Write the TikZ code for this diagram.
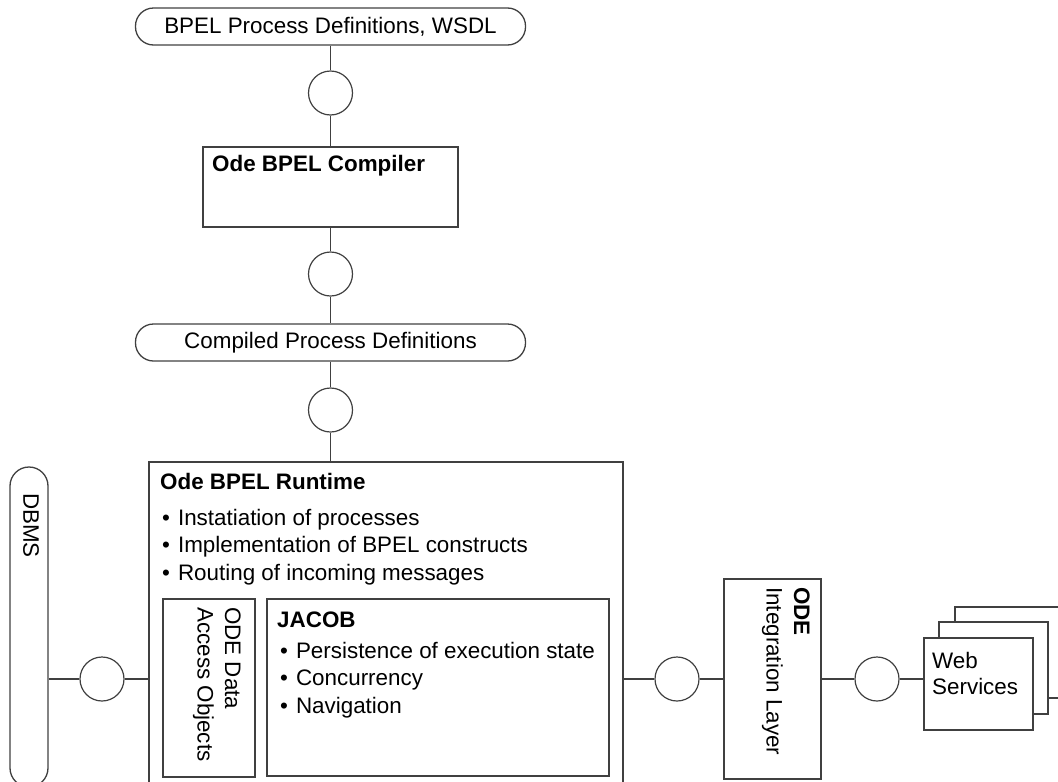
\documentclass[tikz,border=0pt]{standalone}
\usepackage{fontspec}
\setmainfont{Liberation Sans}
\definecolor{linec}{RGB}{64,64,64}
\newcommand{\itm}{\textbullet\hspace{8pt}}

\begin{document}
\begin{tikzpicture}[x=1pt,y=-1pt,font=\fontsize{22.4}{27.5}\selectfont]
\tikzstyle{artifact}=[rectangle,rounded corners=18pt,draw=linec,line width=1.3pt,minimum width=390pt,minimum height=37pt,inner sep=0pt]
\tikzstyle{iface}=[circle,draw=linec,line width=1.2pt,minimum size=44pt,inner sep=0pt]
\tikzstyle{comp}=[rectangle,draw=linec,line width=1.3pt,inner sep=0pt]
\tikzstyle{txt}=[inner sep=0pt,anchor=north west,align=left]
\tikzstyle{vtxt}=[inner sep=0pt,anchor=north west,align=left,rotate=-90]
\tikzstyle{conn}=[draw=linec,line width=1.3pt]
\useasboundingbox (0,0) rectangle (1058,782);
\clip (0,0) rectangle (1058,782);
\node [artifact] (bpel) at (330.5,26.5) {BPEL Process Definitions, WSDL};
\node [iface] (c1) at (330.5,93) {};
\node [comp,minimum width=255pt,minimum height=80pt] (compiler) at (330.5,187) {};
\node [txt] (compilerT) at (212,155) {\bfseries Ode BPEL Compiler};
\node [iface] (c2) at (330.5,274) {};
\node [artifact] (compiled) at (330.5,342.5) {Compiled Process Definitions};
\node [iface] (c3) at (330.5,410) {};
\node [comp,minimum width=474pt,minimum height=340pt] (runtime) at (386,632) {};
\node [txt] (runtimeT) at (160,473) {\bfseries Ode BPEL Runtime};
\node [txt] (runtimeL) at (162,509) {\itm Instatiation of processes\\ \itm Implementation of BPEL constructs\\ \itm Routing of incoming messages};
\node [comp,minimum width=92pt,minimum height=178pt] (dao) at (209,688) {};
\node [vtxt] (daoT) at (241,607) {ODE Data\\Access Objects};
\node [comp,minimum width=342pt,minimum height=177pt] (jacob) at (438,687.5) {};
\node [txt] (jacobT) at (277,612) {\bfseries JACOB};
\node [txt] (jacobL) at (280,642) {\itm Persistence of execution state\\ \itm Concurrency\\ \itm Navigation};
\node [comp,rounded corners=19pt,minimum width=38pt,minimum height=320pt] (dbms) at (29,627) {};
\node [vtxt,anchor=west] (dbmsT) at (31,493) {DBMS};
\node [iface] (c4) at (102,679) {};
\node [iface] (c5) at (677,679) {};
\node [comp,minimum width=97pt,minimum height=200pt] (integ) at (772.5,679) {};
\node [vtxt] (integT) at (810,587) {\bfseries ODE\\Integration Layer};
\node [iface] (c6) at (877,679) {};
\node [comp,fill=white,minimum width=120pt,minimum height=91pt] (ws3) at (1015,652.5) {};
\node [comp,fill=white,minimum width=109pt,minimum height=92pt] (ws2) at (993.5,668) {};
\node [comp,fill=white,minimum width=109pt,minimum height=92pt] (ws1) at (978.5,684) {};
\node [txt,font=\fontsize{22.4}{26}\selectfont] (wsT) at (932,652) {Web\\Services};
\draw [conn] (bpel) -- (c1) -- (compiler);
\draw [conn] (compiler) -- (c2) -- (compiled);
\draw [conn] (compiled) -- (c3) -- (c3 |- runtime.north);
\draw [conn] (c4 -| dbms.east) -- (c4) -- (c4 -| runtime.west);
\draw [conn] (c5 -| runtime.east) -- (c5) -- (c5 -| integ.west);
\draw [conn] (c6 -| integ.east) -- (c6) -- (c6 -| ws1.west);
\end{tikzpicture}
\end{document}
